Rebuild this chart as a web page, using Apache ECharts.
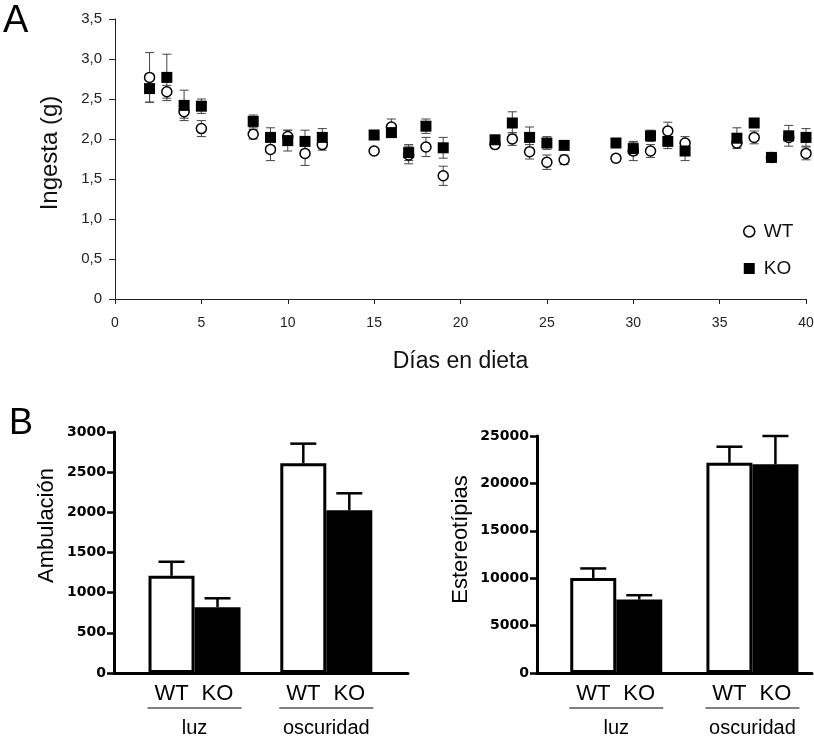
<!DOCTYPE html>
<html><head><meta charset="utf-8">
<script src="https://cdn.jsdelivr.net/npm/echarts@6/dist/echarts.min.js"></script>
<style>html,body{margin:0;padding:0;background:#fff}#c{width:814px;height:738px}</style>
</head><body><div id="c"></div>
<script>
// ---- Panel A data ----
const days = [2,3,4,5,8,9,10,11,12,15,16,17,18,19,22,23,24,25,26,29,30,31,32,33,36,37,38,39,40];
const wtIntake = [2.77,2.59,2.34,2.13,2.06,1.87,2.03,1.82,1.93,1.85,2.15,1.80,1.90,1.54,1.93,2.00,1.84,1.71,1.74,1.76,1.85,1.85,2.10,1.95,1.95,2.02,1.77,2.02,1.82];
const wtSem    = [0.31,0.08,0.08,0.10,0.06,0.14,0.08,0.15,0.07,0.03,0.10,0.11,0.12,0.12,0.03,0.08,0.09,0.09,0.06,0.04,0.12,0.08,0.11,0.08,0.05,0.08,0.03,0.05,0.08];
const koIntake = [2.63,2.77,2.42,2.41,2.22,2.02,1.98,1.97,2.02,2.05,2.08,1.83,2.16,1.89,1.99,2.20,2.02,1.95,1.92,1.95,1.88,2.04,1.97,1.85,2.01,2.20,1.77,2.04,2.02];
const koSem    = [0.17,0.29,0.19,0.09,0.08,0.12,0.13,0.14,0.11,0.03,0.04,0.10,0.09,0.13,0.03,0.14,0.13,0.08,0.03,0.03,0.08,0.07,0.09,0.12,0.13,0.04,0.03,0.13,0.11];

// ---- Panel B data ----
const groups = ['luz', 'oscuridad'];
const genotypes = ['WT', 'KO'];
const ambWT = [1210, 2610];   const ambWTsem = [175, 245];
const ambKO = [820, 2025];    const ambKOsem = [110, 212];
const estWT = [10030, 22180]; const estWTsem = [1000, 1690];
const estKO = [7750, 22010];  const estKOsem = [455, 2990];

const FF = '"Liberation Sans", Arial, sans-serif';
const chart = echarts.init(document.getElementById('c'), null, {renderer: 'canvas'});

function scatterErr(vals, sems) {
  return {
    type: 'custom', xAxisIndex: 0, yAxisIndex: 0, z: 2, silent: true,
    data: days.map((d, i) => [d, vals[i], sems[i]]),
    renderItem(params, api) {
      const x = api.value(0), v = api.value(1), e = api.value(2);
      const lo = api.coord([x, v - e]), hi = api.coord([x, v + e]);
      const st = {stroke: '#444', lineWidth: 1};
      return {type: 'group', children: [
        {type: 'line', shape: {x1: lo[0], y1: lo[1], x2: hi[0], y2: hi[1]}, style: st},
        {type: 'line', shape: {x1: hi[0] - 4.5, y1: hi[1], x2: hi[0] + 4.5, y2: hi[1]}, style: st},
        {type: 'line', shape: {x1: lo[0] - 4.5, y1: lo[1], x2: lo[0] + 4.5, y2: lo[1]}, style: st}
      ]};
    }
  };
}

function barErr(ai, vals, sems, offset) {
  return {
    type: 'custom', xAxisIndex: ai, yAxisIndex: ai, z: 1, silent: true,
    data: vals.map((v, i) => [i, v, sems[i]]),
    renderItem(params, api) {
      const g = api.value(0), v = api.value(1), e = api.value(2);
      const p0 = api.coord([g, v]), p1 = api.coord([g, v + e]);
      const x = p0[0] + offset;
      const st = {stroke: '#000', lineWidth: 2.5};
      return {type: 'group', children: [
        {type: 'line', shape: {x1: x, y1: p0[1], x2: x, y2: p1[1]}, style: st},
        {type: 'line', shape: {x1: x - 13, y1: p1[1], x2: x + 13, y2: p1[1]}, style: st}
      ]};
    }
  };
}

function groupLabels(ai) {
  return {
    type: 'custom', xAxisIndex: ai, yAxisIndex: ai, silent: true, z: 5,
    data: groups.map((g, i) => [i, 0]),
    renderItem(params, api) {
      const i = params.dataIndex;
      const p = api.coord([api.value(0), 0]);
      const cx = p[0], y0 = p[1];
      const ts = (t, x, y, fs) => ({type: 'text', style: {text: t, x: x, y: y, align: 'center', verticalAlign: 'middle', fontSize: fs, fontFamily: FF, fill: '#000'}});
      return {type: 'group', children: [
        ts(genotypes[0], cx - 23, y0 + 21, 22),
        ts(genotypes[1], cx + 23, y0 + 21, 22),
        {type: 'line', shape: {x1: cx - 47, y1: y0 + 35, x2: cx + 47, y2: y0 + 35}, style: {stroke: '#555', lineWidth: 1.5}},
        ts(groups[i], cx, y0 + 55, 20)
      ]};
    }
  };
}

function bar(ai, name, vals, fill) {
  return {
    type: 'bar', name: name, xAxisIndex: ai, yAxisIndex: ai, z: 3, silent: true,
    data: vals.map((v, i) => [i, v]),
    barWidth: 46, barGap: '0%',
    itemStyle: {color: fill, borderColor: '#000', borderWidth: 3}
  };
}

const bAxisY = (gi, max, interval, name, gap, pad) => ({
  type: 'value', gridIndex: gi, min: 0, max: max, interval: interval,
  name: name, nameLocation: 'middle', nameGap: gap,
  nameTextStyle: {fontSize: 22, fontFamily: FF, color: '#000', padding: [0, 0, 0, pad]},
  axisLine: {show: true, onZero: false, lineStyle: {color: '#000', width: 3}},
  axisTick: {show: true, length: 7, lineStyle: {color: '#000', width: 2.5}},
  axisLabel: {margin: 8, fontSize: 14, fontWeight: 'bold', fontFamily: '"DejaVu Sans", sans-serif', color: '#000',
    formatter: v => String(v)},
  splitLine: {show: false}
});
const bAxisX = (gi, min, max) => ({
  type: 'value', gridIndex: gi, min: min, max: max,
  axisLine: {show: true, onZero: false, lineStyle: {color: '#000', width: 3}},
  axisTick: {show: false}, axisLabel: {show: false}, splitLine: {show: false}
});

chart.setOption({
  animation: false,
  backgroundColor: '#fff',
  grid: [
    {left: 115, right: 8, top: 19, bottom: 439, outerBoundsMode: 'none'},
    {left: 114, right: 406, top: 432, bottom: 65, outerBoundsMode: 'none'},
    {left: 537, right: 2, top: 436, bottom: 65, outerBoundsMode: 'none'}
  ],
  graphic: [
    {type: 'text', left: 3, top: 3, style: {text: 'A', fontSize: 38, fontFamily: FF, fill: '#000'}},
    {type: 'text', left: 9, top: 406, style: {text: 'B', fontSize: 36, fontFamily: FF, fill: '#000'}}
  ],
  legend: {
    orient: 'vertical', left: 738, top: 217, itemWidth: 11, itemHeight: 11, itemGap: 18,
    selectedMode: false,
    textStyle: {fontSize: 19, fontFamily: FF, color: '#111', padding: [0, 0, 0, 4]},
    data: [
      {name: 'WT', icon: 'circle', itemStyle: {color: '#fff', borderColor: '#000', borderWidth: 1.5}},
      {name: 'KO', icon: 'rect', itemStyle: {color: '#000', borderWidth: 0}}
    ]
  },
  xAxis: [
    {
      type: 'value', gridIndex: 0, min: 0, max: 40, interval: 5,
      name: 'Días en dieta', nameLocation: 'middle', nameGap: 51,
      nameTextStyle: {fontSize: 23, fontFamily: FF, color: '#111'},
      axisLine: {show: true, onZero: false, lineStyle: {color: '#222', width: 1}},
      axisTick: {show: true, length: 5, lineStyle: {color: '#222'}},
      axisLabel: {margin: 17, fontSize: 14, fontFamily: FF, color: '#222', showMaxLabel: true},
      splitLine: {show: false}
    },
    bAxisX(1, -0.611, 1.62),
    bAxisX(2, -0.582, 1.4375)
  ],
  yAxis: [
    {
      type: 'value', gridIndex: 0, min: 0, max: 3.5, interval: 0.5,
      name: 'Ingesta (g)', nameLocation: 'middle', nameGap: 53,
      nameTextStyle: {fontSize: 24, fontFamily: FF, color: '#111', padding: [0, 0, 0, 12]},
      axisLine: {show: true, onZero: false, lineStyle: {color: '#222', width: 1}},
      axisTick: {show: true, length: 6, lineStyle: {color: '#222'}},
      axisLabel: {margin: 13, fontSize: 15, fontFamily: FF, color: '#222',
        formatter: v => v === 0 ? '0' : v.toFixed(1).replace('.', ',')},
      splitLine: {show: false}
    },
    bAxisY(1, 3000, 500, 'Ambulación', 56, 54),
    bAxisY(2, 25000, 5000, 'Estereotípias', 65, 30)
  ],
  series: [
    scatterErr(wtIntake, wtSem),
    scatterErr(koIntake, koSem),
    {type: 'scatter', name: 'WT', xAxisIndex: 0, yAxisIndex: 0, z: 3, symbol: 'circle', symbolSize: 10,
      data: days.map((d, i) => [d, wtIntake[i]]), clip: false,
      itemStyle: {color: '#fff', borderColor: '#000', borderWidth: 1.5, opacity: 1}},
    {type: 'scatter', name: 'KO', xAxisIndex: 0, yAxisIndex: 0, z: 4, symbol: 'rect', symbolSize: 11,
      data: days.map((d, i) => [d, koIntake[i]]), clip: false,
      itemStyle: {color: '#000', opacity: 1}},
    barErr(1, ambWT, ambWTsem, -23),
    barErr(1, ambKO, ambKOsem, 23),
    bar(1, 'WT ambulación', ambWT, '#fff'),
    bar(1, 'KO ambulación', ambKO, '#000'),
    groupLabels(1),
    barErr(2, estWT, estWTsem, -23),
    barErr(2, estKO, estKOsem, 23),
    bar(2, 'WT estereotipias', estWT, '#fff'),
    bar(2, 'KO estereotipias', estKO, '#000'),
    groupLabels(2)
  ]
});
</script>
</body></html>
